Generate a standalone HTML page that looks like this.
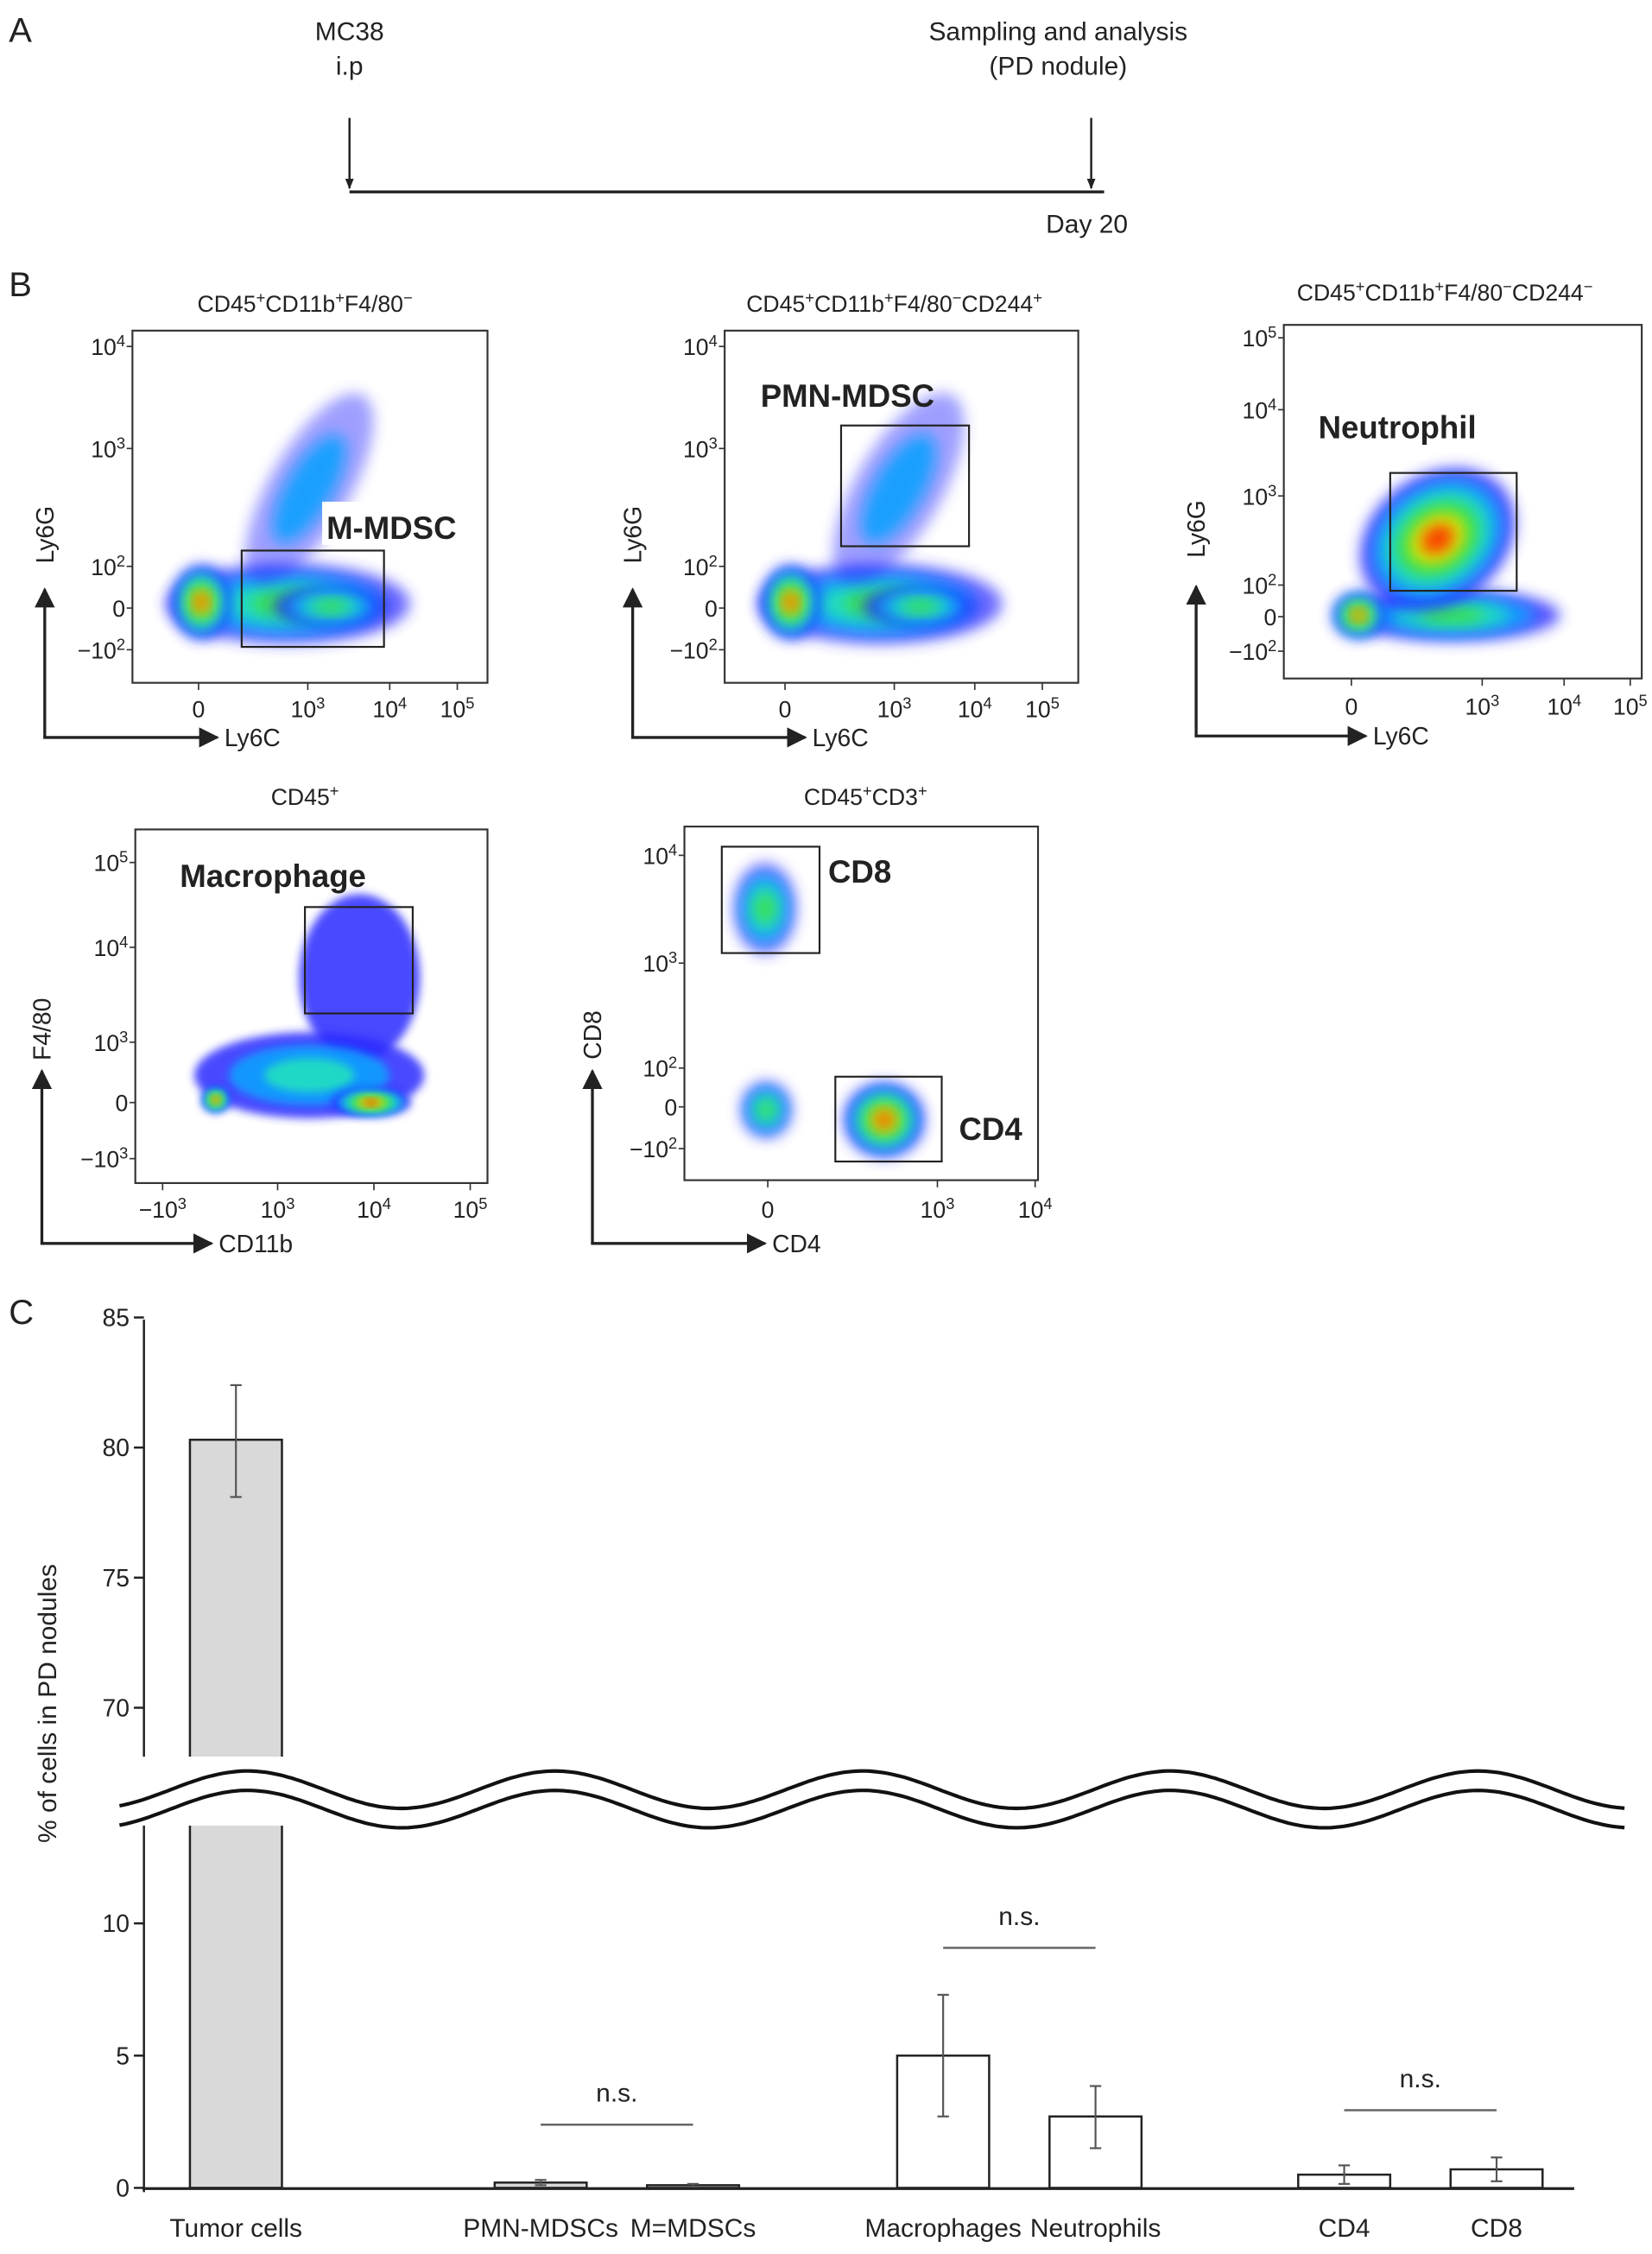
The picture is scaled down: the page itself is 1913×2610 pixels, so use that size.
<!DOCTYPE html>
<html><head><meta charset="utf-8"><style>
html,body{margin:0;padding:0;background:#fff}
svg{display:block}
text{font-family:"Liberation Sans",sans-serif;fill:#222}
</style></head><body>
<svg id="fig" width="1913" height="2610" viewBox="0 0 1149 1568" xmlns="http://www.w3.org/2000/svg">
<defs>
<filter id="bl" x="-50%" y="-50%" width="200%" height="200%"><feGaussianBlur stdDeviation="5"/></filter>
<filter id="bl2" x="-50%" y="-50%" width="200%" height="200%"><feGaussianBlur stdDeviation="3"/></filter>
<marker id="ah" viewBox="0 0 10 10" refX="9" refY="5" markerWidth="7" markerHeight="7" orient="auto"><path d="M0,0L10,5L0,10z" fill="#222"/></marker>
<marker id="ahs" viewBox="0 0 10 10" refX="9" refY="5" markerWidth="5" markerHeight="5" orient="auto"><path d="M0,1L10,5L0,9z" fill="#222"/></marker>
</defs>

<g>
<text x="6" y="29" font-size="24">A</text>
<text x="243" y="28" font-size="18" text-anchor="middle">MC38</text>
<text x="243" y="52" font-size="18" text-anchor="middle">i.p</text>
<line x1="243" y1="82" x2="243" y2="131" stroke="#222" stroke-width="1.5" marker-end="url(#ahs)"/>
<text x="736" y="28" font-size="18" text-anchor="middle">Sampling and analysis</text>
<text x="736" y="52" font-size="18" text-anchor="middle">(PD nodule)</text>
<line x1="759" y1="82" x2="759" y2="131" stroke="#222" stroke-width="1.5" marker-end="url(#ahs)"/>
<line x1="243" y1="133.5" x2="768" y2="133.5" stroke="#222" stroke-width="2"/>
<text x="756" y="162" font-size="18" text-anchor="middle">Day 20</text>
</g>

<text x="6" y="206" font-size="24">B</text>
<text x="6" y="921" font-size="24">C</text>

<g id="flows"></g>
<g id="chart"></g>
</svg>
<script>
const NS='http://www.w3.org/2000/svg';
function mk(tag,attrs,parent,txt){const e=document.createElementNS(NS,tag);for(const k in attrs)e.setAttribute(k,attrs[k]);if(txt!==undefined)e.textContent=txt;parent.appendChild(e);return e;}

// ===== Chart C data =====
const categories=['Tumor cells','PMN-MDSCs','M=MDSCs','Macrophages','Neutrophils','CD4','CD8'];
const values=[80.3,0.2,0.1,5.0,2.7,0.5,0.7];
const errLow=[78.1,0.1,0.05,2.7,1.5,0.15,0.25];
const errHigh=[82.4,0.3,0.15,7.3,3.85,0.85,1.15];
const barFill=['#d9d9d9','#d9d9d9','#d9d9d9','#fff','#fff','#fff','#fff'];
const upperTicks=[85,80,75,70];
const lowerTicks=[10,5,0];
const nsPairs=[[1,2,1478],[3,4,1355],[5,6,1468]];

const barLeft=[132,344,450,624,730,903,1009];
const barW=64;
function yScale(v){ return v>=60 ? 1007-(v-80)*18.1 : 1522-v*18.4; }

const C=document.getElementById('chart');
mk('line',{x1:100,y1:918,x2:100,y2:1525,stroke:'#222','stroke-width':1.5,},C);
mk('line',{x1:99,y1:1522.5,x2:1095,y2:1522.5,stroke:'#222','stroke-width':2,},C);
upperTicks.concat(lowerTicks).forEach(t=>{
  const y=yScale(t);
  const tk=mk('line',{x1:93,y1:y,x2:100,y2:y,stroke:'#222','stroke-width':1.5},C);
  
  
  const lb=mk('text',{x:90,y:y+6,'font-size':17,'text-anchor':'end'},C,String(t));
  
  
});
const yt=mk('text',{x:0,y:0,'font-size':18,'text-anchor':'middle',transform:'translate(39,1185) rotate(-90)',fill:'#333'},C,'% of cells in PD nodules');



categories.forEach((c,i)=>{
  const x=barLeft[i], yTop=yScale(values[i]);
  const r=mk('rect',{x:x,y:yTop,width:barW,height:1522-yTop,fill:barFill[i],stroke:'#222','stroke-width':1.5},C);
  
  
  const cx=x+barW/2;
  const e=mk('line',{x1:cx,y1:yScale(errLow[i]),x2:cx,y2:yScale(errHigh[i]),stroke:'#555','stroke-width':1.3},C);
  
  
  [errLow[i],errHigh[i]].forEach(v=>{const cap=mk('line',{x1:cx-4,y1:yScale(v),x2:cx+4,y2:yScale(v),stroke:'#555','stroke-width':1.3},C);
    
    });
  const lb=mk('text',{x:cx,y:1556,'font-size':18,'text-anchor':'middle'},C,c);
  
  
});
nsPairs.forEach(p=>{
  const x1=barLeft[p[0]]+barW/2, x2=barLeft[p[1]]+barW/2;
  const l=mk('line',{x1:x1,y1:p[2],x2:x2,y2:p[2],stroke:'#666','stroke-width':1.5},C);
  
  
  const t=mk('text',{x:(x1+x2)/2,y:p[2]-16,'font-size':18,'text-anchor':'middle'},C,'n.s.');
  
  
});
mk('rect',{x:90,y:1222,width:115,height:48,fill:'#fff'},C);
function wave(off){let d='';for(let x=83;x<=1130;x+=3){const y=off-13*Math.cos(2*Math.PI*(x-172)/214);d+=(x===83?'M':'L')+x+','+y.toFixed(1);}return d;}
const up=wave(1245), lo=wave(1258.5);
let fillD=up;for(let x=1130;x>=83;x-=3){fillD+='L'+x+','+(1258.5-13*Math.cos(2*Math.PI*(x-172)/214)).toFixed(1);}fillD+='Z';
const bf=mk('path',{d:fillD,fill:'#fff'},C);


[up,lo].forEach(d=>{const w=mk('path',{d:d,fill:'none',stroke:'#111','stroke-width':2.5},C);
  
  });

// ===== Flow plots (decorative density) =====
const F=document.getElementById('flows');
const COLS=['#2a2aff','#0aa0ff','#20e0c0','#40e040','#e8e800','#ff3000'];
function blob(g,cx,cy,rx,ry,rot,lv,blur,op){
  for(let k=0;k<lv;k++){const f=1-k/(lv+0.3);
    mk('ellipse',{cx:cx,cy:cy,rx:rx*f,ry:ry*f,fill:COLS[k],transform:`rotate(${rot} ${cx} ${cy})`,filter:'url(#'+(blur||'bl')+')',opacity:k===0?(op||0.8):0.9},g);}
}
function addLbl(e,base,ex){e.textContent=base;if(ex){mk('tspan',{'baseline-shift':'super','font-size':11},e,ex);}}
function plot(o){
  const g=mk('g',{},F);
  
  
  const t=mk('text',{x:o.tx,y:o.ty,'font-size':16,'text-anchor':'middle'},g);
  
  
  o.title.forEach(s=>{mk('tspan',{},t,s[0]);if(s[1])mk('tspan',{'baseline-shift':'super','font-size':11},t,s[1]);});
  const dens=mk('g',{},g);
  o.blobs.forEach(b=>blob(dens,...b));
  const box=mk('rect',{x:o.bx,y:o.by,width:o.bw,height:o.bh,fill:'none',stroke:'#333','stroke-width':1.3},g);
  
  
  o.gates.forEach(gt=>{
    const gate=mk('rect',{x:gt[0],y:gt[1],width:gt[2],height:gt[3],fill:'none',stroke:'#222','stroke-width':1.3},g);
    
    
  });
  if(o.gateBg) mk('rect',{x:o.gateBg[0],y:o.gateBg[1],width:o.gateBg[2],height:o.gateBg[3],fill:'#fff'},g);
  o.gl.forEach(l=>{
    const gl=mk('text',{x:l[0],y:l[1],'font-size':22,'font-weight':'bold'},g,l[2]);
    
    
  });
  o.yt.forEach(s=>{const e=mk('text',{x:o.bx-5,y:s[0]+6,'font-size':16,'text-anchor':'end'},g);addLbl(e,s[1],s[2]);
    
    
    mk('line',{x1:o.bx-4,y1:s[0],x2:o.bx,y2:s[0],stroke:'#333'},g);});
  o.xt.forEach(s=>{const e=mk('text',{x:s[0],y:o.xly,'font-size':16,'text-anchor':'middle'},g);addLbl(e,s[1],s[2]);
    
    
    mk('line',{x1:s[0],y1:o.by+o.bh,x2:s[0],y2:o.by+o.bh+5,stroke:'#333'},g);});
  const ay=mk('line',{x1:o.ax,y1:o.ay,x2:o.ax,y2:o.aTop,stroke:'#222','stroke-width':2,'marker-end':'url(#ah)'},g);
  
  
  const ax=mk('line',{x1:o.ax-1,y1:o.ay,x2:o.aRight,y2:o.ay,stroke:'#222','stroke-width':2,'marker-end':'url(#ah)'},g);
  
  
  const yl=mk('text',{x:0,y:0,'font-size':17,'text-anchor':'middle',transform:`translate(${o.ax+6},${o.ylY}) rotate(-90)`},g,o.ylab);
  
  
  const xl=mk('text',{x:o.aRight+5,y:o.ay+6,'font-size':17},g,o.xlab);
  
  
}
plot({name:'flow-plot-m-mdsc',tx:212,ty:217,title:[['CD45','+'],['CD11b','+'],['F4/80','−']],
 bx:92,by:230,bw:247,bh:245,gates:[[168,383,99,67]],gateBg:[224,349,112,30],gl:[[227,375,'M-MDSC']],
 yt:[[241,'10','4'],[312,'10','3'],[394,'10','2'],[423,'0'],[452,'−10','2']],
 xt:[[138,'0'],[214,'10','3'],[271,'10','4'],[318,'10','5']],xly:499,ax:31,ay:513,aTop:410,aRight:151,ylY:372,ylab:'Ly6G',xlab:'Ly6C',
 blobs:[[200,420,85,28,0,4,'bl',0.7],[215,340,28,75,30,2,'bl',0.45],[140,419,20,26,0,6],[230,422,40,14,0,4]]});
plot({name:'flow-plot-pmn-mdsc',tx:622,ty:217,title:[['CD45','+'],['CD11b','+'],['F4/80','−'],['CD244','+']],
 bx:504,by:230,bw:246,bh:245,gates:[[585,296,89,84]],gl:[[529,283,'PMN-MDSC']],
 yt:[[241,'10','4'],[312,'10','3'],[394,'10','2'],[423,'0'],[452,'−10','2']],
 xt:[[546,'0'],[622,'10','3'],[678,'10','4'],[725,'10','5']],xly:499,ax:440,ay:513,aTop:410,aRight:560,ylY:372,ylab:'Ly6G',xlab:'Ly6C',
 blobs:[[612,420,85,28,0,4,'bl',0.7],[625,340,30,75,30,2,'bl',0.45],[550,419,20,26,0,6],[640,422,40,14,0,4]]});
plot({name:'flow-plot-neutrophil',tx:1005,ty:209,title:[['CD45','+'],['CD11b','+'],['F4/80','−'],['CD244','−']],
 bx:893,by:226,bw:249,bh:246,gates:[[967,329,88,82]],gl:[[917,305,'Neutrophil']],
 yt:[[235,'10','5'],[285,'10','4'],[345,'10','3'],[407,'10','2'],[429,'0'],[453,'−10','2']],
 xt:[[940,'0'],[1031,'10','3'],[1088,'10','4'],[1134,'10','5']],xly:497,ax:832,ay:512,aTop:408,aRight:950,ylY:368,ylab:'Ly6G',xlab:'Ly6C',
 blobs:[[1010,428,75,18,0,4],[1000,375,58,45,-35,6],[945,428,18,16,0,6]]});
plot({name:'flow-plot-macrophage',tx:212,ty:560,title:[['CD45','+']],
 bx:94,by:577,bw:245,bh:246,gates:[[212,631,75,74]],gl:[[125,617,'Macrophage']],
 yt:[[600,'10','5'],[659,'10','4'],[725,'10','3'],[767,'0'],[806,'−10','3']],
 xt:[[113,'−10','3'],[193,'10','3'],[260,'10','4'],[327,'10','5']],xly:847,ax:29,ay:865,aTop:745,aRight:147,ylY:716,ylab:'F4/80',xlab:'CD11b',
 blobs:[[250,680,42,58,0,1,'bl2',0.85],[215,748,80,30,0,3,'bl2',0.85],[150,765,10,9,0,6,'bl2'],[258,767,28,10,0,6,'bl2']]});
plot({name:'flow-plot-t-cells',tx:602,ty:560,title:[['CD45','+'],['CD3','+']],
 bx:476,by:575,bw:246,bh:246,gates:[[502,589,68,74],[581,749,74,59]],gl:[[576,614,'CD8'],[667,793,'CD4']],
 yt:[[595,'10','4'],[670,'10','3'],[743,'10','2'],[770,'0'],[799,'−10','2']],
 xt:[[534,'0'],[652,'10','3'],[720,'10','4']],xly:847,ax:412,ay:865,aTop:745,aRight:532,ylY:720,ylab:'CD8',xlab:'CD4',
 blobs:[[532,632,22,32,0,4,'bl',0.6],[533,772,18,20,0,4,'bl',0.6],[615,779,28,26,0,6]]});
</script>
</body></html>
